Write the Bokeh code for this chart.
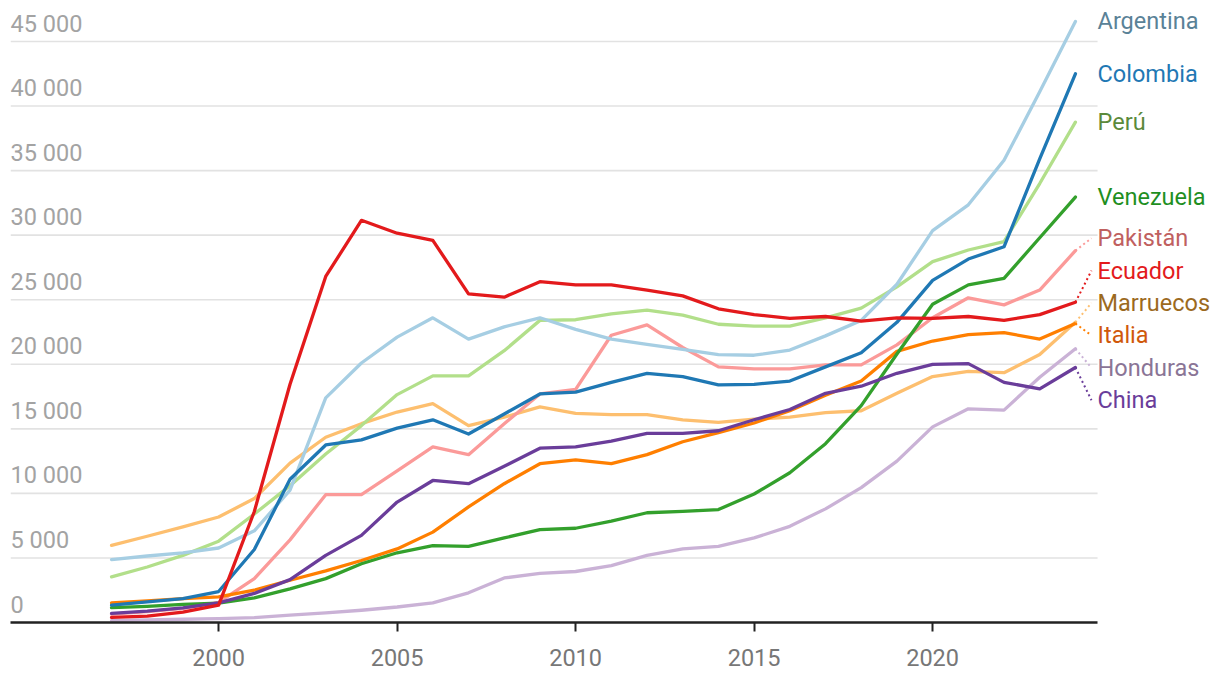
from bokeh.plotting import figure
from bokeh.models import Range1d, FixedTicker
from bokeh.core.properties import value
from bokeh.embed import file_html
from bokeh.resources import INLINE

years = list(range(1997, 2025))

countries = ["Argentina", "Colombia", "Perú", "Venezuela", "Pakistán",
             "Ecuador", "Marruecos", "Italia", "Honduras", "China"]

argentina = [4870, 5150, 5400, 5770, 7100, 10250, 17400, 20100, 22100, 23600, 21950, 22900, 23600, 22700,
             21950, 21550, 21150, 20750, 20700, 21100, 22200, 23400, 26200, 30350, 32350, 35800, 41100, 46550]
colombia = [1350, 1600, 1850, 2400, 5650, 11100, 13750, 14150, 15050, 15700, 14600, 16150, 17700, 17850,
            18600, 19300, 19050, 18400, 18450, 18700, 19800, 20900, 23250, 26500, 28150, 29100, 35900, 42500]
peru = [3530, 4300, 5200, 6300, 8400, 10600, 13050, 15250, 17650, 19100, 19100, 21050, 23400, 23450,
        23900, 24200, 23800, 23100, 22950, 22950, 23600, 24350, 26000, 27950, 28850, 29500, 34000, 38750]
venezuela = [1150, 1250, 1400, 1500, 1900, 2600, 3400, 4550, 5400, 5950, 5900, 6550, 7200, 7300,
             7850, 8500, 8600, 8750, 9950, 11600, 13850, 16800, 20800, 24650, 26150, 26650, 29800, 32950]
pakistan = [650, 850, 1100, 1550, 3400, 6400, 9900, 9900, 11750, 13600, 13000, 15400, 17700, 18050,
            22250, 23050, 21300, 19800, 19650, 19650, 19950, 19950, 21500, 23600, 25150, 24600, 25750, 28800]
ecuador = [400, 500, 800, 1350, 8600, 18450, 26800, 31150, 30150, 29600, 25450, 25200, 26400, 26150,
           26150, 25750, 25300, 24300, 23850, 23550, 23700, 23350, 23600, 23550, 23700, 23400, 23850, 24800]
marruecos = [5980, 6680, 7400, 8170, 9600, 12350, 14350, 15400, 16300, 16950, 15250, 15900, 16700, 16200,
             16100, 16100, 15700, 15500, 15750, 15900, 16250, 16400, 17750, 19050, 19450, 19350, 20750, 23250]
italia = [1520, 1680, 1850, 1980, 2500, 3270, 4000, 4800, 5700, 7000, 8950, 10750, 12300, 12600,
          12300, 13000, 14000, 14700, 15450, 16400, 17600, 18700, 21000, 21800, 22300, 22450, 21950, 23150]
honduras = [150, 200, 250, 300, 370, 570, 750, 950, 1200, 1520, 2300, 3450, 3800, 3950,
            4400, 5200, 5700, 5900, 6550, 7450, 8800, 10450, 12500, 15150, 16550, 16450, 19000, 21200]
china = [700, 880, 1130, 1520, 2250, 3320, 5200, 6750, 9330, 11000, 10750, 12100, 13500, 13600,
         14050, 14650, 14650, 14850, 15700, 16500, 17750, 18300, 19300, 20000, 20050, 18600, 18100, 19750]

series = {"Argentina": argentina, "Colombia": colombia, "Perú": peru, "Venezuela": venezuela,
          "Pakistán": pakistan, "Ecuador": ecuador, "Marruecos": marruecos, "Italia": italia,
          "Honduras": honduras, "China": china}

line_colors = {"Argentina": "#a6cee3", "Colombia": "#1f78b4", "Perú": "#b2df8a", "Venezuela": "#33a02c",
               "Pakistán": "#fb9a99", "Ecuador": "#e31a1c", "Marruecos": "#fdbf6f", "Italia": "#ff7f00",
               "Honduras": "#cab2d6", "China": "#6a3d9a"}
label_colors = {"Argentina": "#5a8297", "Colombia": "#1f78b4", "Perú": "#5b8a3b", "Venezuela": "#1f8f1f",
                "Pakistán": "#c0605f", "Ecuador": "#e31a1c", "Marruecos": "#9c6a1e", "Italia": "#d0580a",
                "Honduras": "#8a7596", "China": "#6a3d9a"}

draw_order = ["Honduras", "Marruecos", "Pakistán", "Perú", "Argentina",
              "Italia", "Venezuela", "Colombia", "China", "Ecuador"]

y_ticks = [0, 5000, 10000, 15000, 20000, 25000, 30000, 35000, 40000, 45000]
y_tick_labels = ["0", "5 000", "10 000", "15 000", "20 000", "25 000", "30 000", "35 000", "40 000", "45 000"]
x_ticks = [2000, 2005, 2010, 2015, 2020]

# layout
W, H = 1212, 676
TOP = 8
BOTTOM = 54
FRAME_H = H - BOTTOM - TOP
x_left, x_right, x_end = 1994.17, 2024.62, 2027.84
y_start, y_end = 0, 47556
FONT = "Roboto"
FS = "23.5px"

p = figure(width=W, height=H, output_backend="svg", toolbar_location=None,
           x_range=Range1d(x_left, x_end), y_range=Range1d(y_start, y_end),
           y_axis_location=None,
           min_border_left=10, min_border_right=0, min_border_top=TOP, min_border_bottom=BOTTOM)
p.outline_line_color = None
p.grid.visible = False
p.background_fill_color = "white"
p.border_fill_color = "white"

xa = p.xaxis[0]
xa.ticker = FixedTicker(ticks=x_ticks)
xa.bounds = (x_left, x_right)
xa.axis_line_color = "#222222"
xa.axis_line_width = 2.5
xa.major_tick_line_color = "#222222"
xa.major_tick_line_width = 2
xa.major_tick_in = 0
xa.major_tick_out = 9
xa.minor_tick_line_color = None
xa.major_label_text_font = FONT
xa.major_label_text_font_size = FS
xa.major_label_text_color = "#777777"
xa.major_label_standoff = 17

# gridlines
gy = y_ticks[1:]
p.segment(x0=[x_left] * len(gy), y0=gy, x1=[x_right] * len(gy), y1=gy,
          line_color="#e2e2e2", line_width=1.6)

# y labels above gridlines
p.text(x=[x_left] * len(y_ticks), y=y_ticks, text=y_tick_labels,
       text_font=value(FONT), text_font_size=FS, text_color="#a3a3a3",
       text_baseline="alphabetic", text_align="left", y_offset=-18)

# lines
for name in draw_order:
    p.line(years, series[name], line_color=line_colors[name], line_width=3.3,
           line_join="round", line_cap="round")

# end labels with collision avoidance (cluster method)
ppu = FRAME_H / (y_end - y_start)
gap = 32.4
ends = sorted(((series[n][-1], n) for n in countries), reverse=True)
targets = [(y_end - v) * ppu for v, n in ends]
clusters = []
for i, t in enumerate(targets):
    clusters.append([[i], t])
    while len(clusters) > 1:
        a, b = clusters[-2], clusters[-1]
        top_a = a[1] - (len(a[0]) - 1) * gap / 2
        bot_a = top_a + (len(a[0]) - 1) * gap
        top_b = b[1] - (len(b[0]) - 1) * gap / 2
        if bot_a + gap > top_b:
            members = a[0] + b[0]
            clusters = clusters[:-2] + [[members, sum(targets[m] for m in members) / len(members)]]
        else:
            break
label_px = [0.0] * len(targets)
for members, c in clusters:
    top = c - (len(members) - 1) * gap / 2
    for k, m in enumerate(members):
        label_px[m] = top + k * gap

lab_x, lab_y, lab_t, lab_c = [], [], [], []
for (v, n), lp in zip(ends, label_px):
    ly = y_end - lp / ppu
    lab_x.append(x_right)
    lab_y.append(ly)
    lab_t.append(n)
    lab_c.append(label_colors[n])
    if abs(ly - v) * ppu > 3:
        p.segment(x0=[years[-1]], y0=[v], x1=[2024.45], y1=[ly],
                  line_color=line_colors[n], line_width=2, line_dash="2 3")

p.text(x=lab_x, y=lab_y, text=lab_t, text_color=lab_c,
       text_font=value(FONT), text_font_size=FS, text_baseline="middle", text_align="left")

open("out.html", "w").write(file_html(p, INLINE))
